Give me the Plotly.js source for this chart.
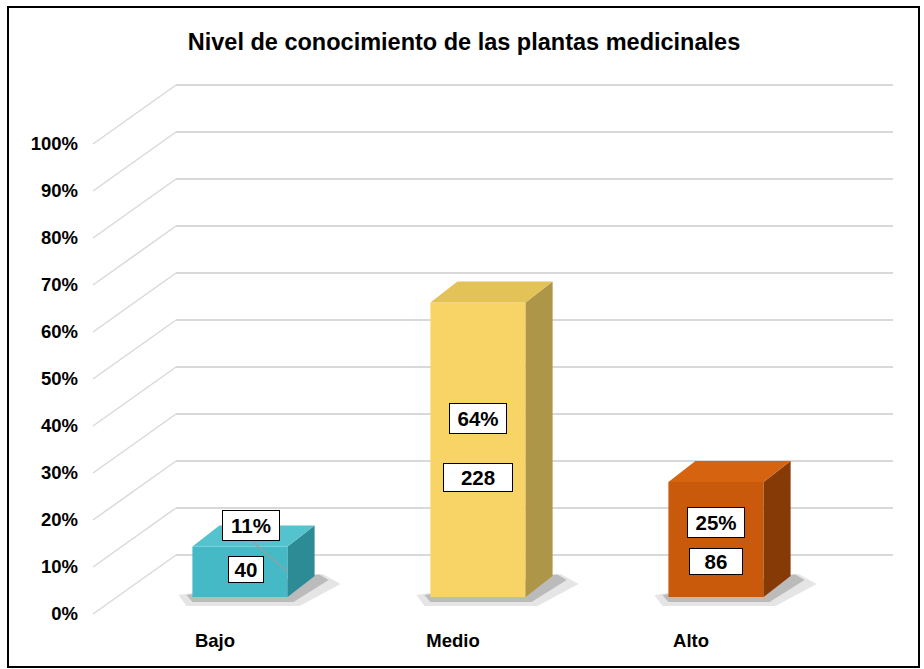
<!DOCTYPE html>
<html>
<head>
<meta charset="utf-8">
<script src="https://cdn.plot.ly/plotly-3.0.1.min.js"></script>
<style>html,body{margin:0;padding:0;background:#fff}#chart{width:924px;height:669px}</style>
</head>
<body>
<div id="chart"></div>
<script>
// ---- data ----
const categories = ['Bajo', 'Medio', 'Alto'];
const percentValues = [11, 64, 25];
const percentLabels = ['11%', '64%', '25%'];
const counts = [40, 228, 86];
const yTickVals = [0, 10, 20, 30, 40, 50, 60, 70, 80, 90, 100];
const yTickText = ['0%', '10%', '20%', '30%', '40%', '50%', '60%', '70%', '80%', '90%', '100%'];

// ---- style / geometry (pixels) ----
const W = 924, H = 669;
const palette = {
  front: ['#45b9c5', '#f8d466', '#c95a0b'],
  side:  ['#2c8b94', '#ae9649', '#863a05'],
  top:   ['#55c3cd', '#e3c258', '#d6630f']
};
const wall = {left: 176, right: 893, y0: 555, y100: 85};      // back wall
const frontOffset = {dx: -83, dy: 59};                        // wall -> front plane
const barsGeom = {left: 121, right: 835, y0: 597, y100: 137, width: 0.4, dx: 27, dy: -21};
// label placement (percent-axis units on the bar plane) and box widths
const pctLabelY = [15.6, 38.7, 16.1];
const cntLabelY = [5.9, 26.0, 7.8];
const pctBoxW = [50, 50, 50];
const cntBoxW = [32, 64, 50];
const cntPad = [1, 2, 1];
const font = 'Arial, "Liberation Sans", sans-serif';

const px = p => p / W;
const py = p => 1 - p / H;

// wall axis mapping
const wallPad = 0.5;
const wallScale = (wall.y0 - wall.y100) / 100;
const wallY = v => wall.y0 - v * wallScale;
// bar plane mapping
const barScale = (barsGeom.y0 - barsGeom.y100) / 100;
const barY = v => barsGeom.y0 - v * barScale;
const step = (barsGeom.right - barsGeom.left) / categories.length;
const barX = i => barsGeom.left + (i + 0.5) * step;
const barHalf = barsGeom.width * step / 2;

const shapes = [];
// diagonal side-wall lines from back wall to front tick positions
yTickVals.forEach(v => {
  shapes.push({type: 'line', xref: 'paper', yref: 'paper', layer: 'below',
    x0: px(wall.left), y0: py(wallY(v)),
    x1: px(wall.left + frontOffset.dx), y1: py(wallY(v) + frontOffset.dy),
    line: {color: '#d9d9d9', width: 1.5}});
});

function poly(pts) {
  return 'M' + pts.map(p => px(p[0]).toFixed(5) + ',' + py(p[1]).toFixed(5)).join('L') + 'Z';
}

// shadows (below)
percentValues.forEach((v, i) => {
  const xl = barX(i) - barHalf, xr = barX(i) + barHalf, yb = barY(0);
  const dx = barsGeom.dx, dy = barsGeom.dy;
  shapes.push({type: 'path', xref: 'paper', yref: 'paper', layer: 'below',
    path: poly([[xl - 14, yb - 2], [xl - 6, yb + 9], [xr + 12, yb + 9], [xr + dx + 26, yb + dy + 8], [xr + dx + 8, yb + dy - 2]]),
    fillcolor: 'rgba(0,0,0,0.10)', line: {width: 0}});
  shapes.push({type: 'path', xref: 'paper', yref: 'paper', layer: 'below',
    path: poly([[xl - 6, yb - 2], [xl, yb + 5], [xr + 6, yb + 5], [xr + dx + 14, yb + dy + 4], [xr + dx + 4, yb + dy - 2]]),
    fillcolor: 'rgba(0,0,0,0.18)', line: {width: 0}});
});

// 3D faces
percentValues.forEach((v, i) => {
  const xl = barX(i) - barHalf, xr = barX(i) + barHalf, yt = barY(v), yb = barY(0);
  const dx = barsGeom.dx, dy = barsGeom.dy;
  shapes.push({type: 'path', xref: 'paper', yref: 'paper', layer: 'above',
    path: poly([[xr, yt], [xr + dx, yt + dy], [xr + dx, yb + dy], [xr, yb]]),
    fillcolor: palette.side[i], line: {width: 0}});
  shapes.push({type: 'path', xref: 'paper', yref: 'paper', layer: 'above',
    path: poly([[xl, yt], [xl + dx, yt + dy], [xr + dx, yt + dy], [xr, yt]]),
    fillcolor: palette.top[i], line: {width: 0}});
});

// leader line for the small bar label
(function () {
  const i = 0;
  shapes.push({type: 'line', xref: 'paper', yref: 'paper', layer: 'above',
    x0: px(barX(i) + 13), y0: py(barY(pctLabelY[i]) + 17),
    x1: px(barX(i) + barHalf), y1: py(barY(percentValues[i] / 2)),
    line: {color: 'rgba(150,160,160,0.9)', width: 1.5}});
})();

// outer border
shapes.push({type: 'rect', xref: 'paper', yref: 'paper', layer: 'above',
  x0: px(8), x1: px(919), y0: py(7), y1: py(667),
  line: {color: '#000', width: 2}, fillcolor: 'rgba(0,0,0,0)'});

const annotations = [];
categories.forEach((c, i) => {
  annotations.push({xref: 'x2', yref: 'y2', x: i, y: pctLabelY[i], xshift: (i === 0 ? 11 : 0),
    text: '<b>' + percentLabels[i] + '</b>', showarrow: false,
    font: {family: font, size: 20.5, color: '#000'},
    bgcolor: '#fff', bordercolor: '#000', borderwidth: 1, borderpad: 3, width: pctBoxW[i]});
  annotations.push({xref: 'x2', yref: 'y2', x: i, y: cntLabelY[i], xshift: (i === 0 ? 6 : 0),
    text: '<b>' + counts[i] + '</b>', showarrow: false,
    font: {family: font, size: 20.5, color: '#000'},
    bgcolor: '#fff', bordercolor: '#000', borderwidth: 1, borderpad: cntPad[i], width: cntBoxW[i]});
});

const traces = [
  // empty helper trace so the back-wall subplot (gridlines + % labels) is drawn
  {type: 'scatter', x: [], y: [], xaxis: 'x', yaxis: 'y', mode: 'none',
   hoverinfo: 'skip', showlegend: false},
  {type: 'bar', x: categories, y: percentValues, xaxis: 'x2', yaxis: 'y2',
   width: barsGeom.width, marker: {color: palette.front, line: {width: 0}},
   hoverinfo: 'skip', showlegend: false}
];

const layout = {
  width: W, height: H, autosize: false,
  margin: {l: 0, r: 0, t: 0, b: 0, pad: 0},
  paper_bgcolor: '#fff', plot_bgcolor: 'rgba(0,0,0,0)',
  showlegend: false,
  title: {text: '<b>Nivel de conocimiento de las plantas medicinales</b>',
    font: {family: font, size: 23.5, color: '#000'},
    x: 464 / W, xref: 'paper', xanchor: 'center', y: py(42), yref: 'paper', yanchor: 'middle'},
  xaxis: {domain: [px(wall.left), px(wall.right)], range: [0, 1], showgrid: false,
    zeroline: false, showticklabels: false, showline: false, ticks: '', fixedrange: true},
  yaxis: {domain: [py(wall.y0 + wallPad * wallScale), py(wall.y100 - wallPad * wallScale)],
    range: [-wallPad, 100 + wallPad], tickmode: 'array', tickvals: yTickVals, ticktext: yTickText,
    showgrid: true, gridcolor: '#d9d9d9', gridwidth: 1.5, zeroline: false, showline: false,
    ticks: '', ticklabelstandoff: 97, ticklabelshift: frontOffset.dy,
    tickfont: {family: font, size: 18.5, color: '#000', weight: 'bold'}, fixedrange: true},
  xaxis2: {domain: [px(barsGeom.left), px(barsGeom.right)], anchor: 'y2',
    range: [-0.5, categories.length - 0.5], type: 'category', categoryarray: categories,
    showgrid: false, zeroline: false, showline: false, ticks: '',
    ticklabelshift: -25, ticklabelstandoff: 30,
    tickfont: {family: font, size: 18.5, color: '#000', weight: 'bold'}, fixedrange: true},
  yaxis2: {domain: [py(barsGeom.y0), py(barsGeom.y100)], anchor: 'x2', range: [0, 100],
    showgrid: false, zeroline: false, showline: false, showticklabels: false, ticks: '', fixedrange: true},
  shapes: shapes,
  annotations: annotations
};

Plotly.newPlot('chart', traces, layout, {displayModeBar: false, staticPlot: true});
</script>
</body>
</html>
